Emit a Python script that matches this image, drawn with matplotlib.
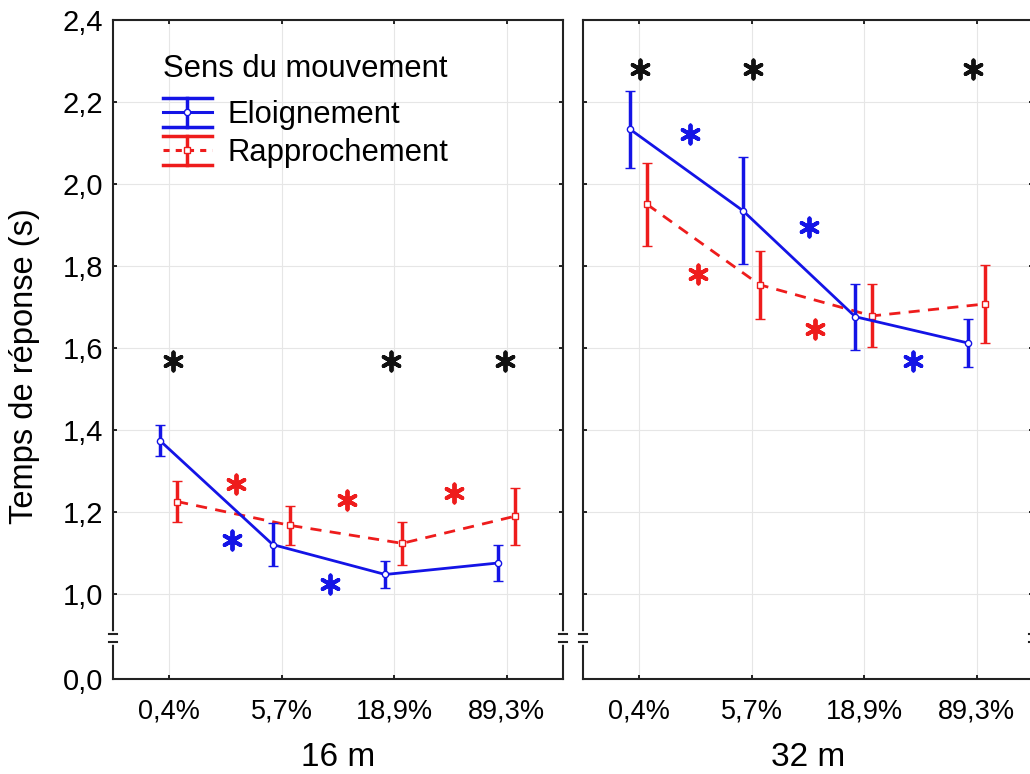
import numpy as np
import matplotlib
matplotlib.use("Agg")
import matplotlib.pyplot as plt
import matplotlib.transforms as mtransforms
from matplotlib.lines import Line2D
from matplotlib.legend_handler import HandlerBase

plt.rcParams['font.family'] = ['Liberation Sans', 'DejaVu Sans']

# categories and panels
categories = ['0,4%', '5,7%', '18,9%', '89,3%']
panels = ['16 m', '32 m']

# mean response times (s) and error half-widths
eloi_16 = [1.373, 1.120, 1.047, 1.075]
eloi_16_err = [0.038, 0.052, 0.034, 0.045]
rapp_16 = [1.225, 1.167, 1.123, 1.189]
rapp_16_err = [0.050, 0.047, 0.053, 0.070]

eloi_32 = [2.133, 1.935, 1.676, 1.612]
eloi_32_err = [0.094, 0.130, 0.080, 0.058]
rapp_32 = [1.950, 1.754, 1.678, 1.707]
rapp_32_err = [0.102, 0.083, 0.077, 0.096]

# significance asterisks (category position, value)
black_16_x = [0.03, 1.97, 2.98]
black_16_y = [1.568, 1.568, 1.568]
red_16_x = [0.59, 1.58, 2.53]
red_16_y = [1.268, 1.229, 1.246]
blue_16_x = [0.56, 1.43]
blue_16_y = [1.132, 1.024]

black_32_x = [0.01, 1.01, 2.97]
black_32_y = [2.28, 2.28, 2.28]
red_32_x = [0.52, 1.56]
red_32_y = [1.78, 1.645]
blue_32_x = [0.45, 1.51, 2.43]
blue_32_y = [2.122, 1.894, 1.567]

yticks = [1.0, 1.2, 1.4, 1.6, 1.8, 2.0, 2.2, 2.4]
ytick_labels = ['1,0', '1,2', '1,4', '1,6', '1,8', '2,0', '2,2', '2,4']
y_zero_pos = 0.792  # where "0,0" sits below the axis break

BLUE = '#1414e6'
RED = '#ee1c1c'


class StatHandler(HandlerBase):
    # legend key: wide caps top and bottom, vertical bar, line, marker
    def __init__(self, color, ls, marker):
        super().__init__()
        self.color, self.ls, self.marker = color, ls, marker

    def create_artists(self, legend, orig, xd, yd, w, h, fs, trans):
        cy = yd + h / 2
        half = 10.5
        arts = [
            Line2D([xd, xd + w], [cy + half, cy + half], color=self.color, lw=2.5),
            Line2D([xd, xd + w], [cy - half, cy - half], color=self.color, lw=2.5),
            Line2D([xd + w / 2, xd + w / 2], [cy - half, cy + half], color=self.color, lw=2.5),
            Line2D([xd, xd + w], [cy, cy], color=self.color, lw=2.2, ls=self.ls),
            Line2D([xd + w / 2], [cy], marker=self.marker, ms=4.5, mfc='white',
                   mec=self.color, mew=1, ls='none'),
        ]
        for a in arts:
            a.set_transform(trans)
        return arts


fig = plt.figure(figsize=(10.3, 7.74), dpi=100)
ax1 = fig.add_axes([113 / 1030, 95 / 774, 450 / 1030, 659 / 774])
ax2 = fig.add_axes([583 / 1030, 95 / 774, 450 / 1030, 659 / 774])

data = [
    (ax1, eloi_16, eloi_16_err, rapp_16, rapp_16_err,
     (black_16_x, black_16_y), (red_16_x, red_16_y), (blue_16_x, blue_16_y)),
    (ax2, eloi_32, eloi_32_err, rapp_32, rapp_32_err,
     (black_32_x, black_32_y), (red_32_x, red_32_y), (blue_32_x, blue_32_y)),
]

x = np.arange(len(categories))

for i, (ax, e, ee, r, re_, blk, red, blu) in enumerate(data):
    ax.errorbar(x - 0.08, e, yerr=ee, color=BLUE, lw=2, elinewidth=2.5,
                capsize=3.5, capthick=2.5, marker='o', ms=4.5,
                mfc='white', mec=BLUE, mew=1, zorder=4)
    ax.errorbar(x + 0.07, r, yerr=re_, color=RED, lw=2, ls=(0, (4, 3)),
                elinewidth=2.5, capsize=3.5, capthick=2.5, marker='s', ms=4,
                mfc='white', mec=RED, mew=1, zorder=3)

    star = (6, 2, 0)
    ax.scatter(blk[0], blk[1], marker=star, s=170, color='#111111', lw=2.8, zorder=5)
    ax.scatter(red[0], red[1], marker=star, s=170, color=RED, lw=2.8, zorder=5)
    ax.scatter(blu[0], blu[1], marker=star, s=170, color=BLUE, lw=2.8, zorder=5)

    ax.set_xlim(-0.5, 3.5)
    ax.set_ylim(y_zero_pos, 2.4)
    ax.set_xticks(x)
    ax.set_xticklabels(categories, fontsize=19.5)
    ax.set_yticks([y_zero_pos] + yticks)
    if i == 0:
        ax.set_yticklabels(['0,0'] + ytick_labels, fontsize=21)
    else:
        ax.set_yticklabels([])
    ax.tick_params(direction='in', length=3, width=1.2, top=True, right=True,
                   pad=7)
    ax.tick_params(axis='x', pad=14)
    ax.grid(True, color='#e6e6e6', lw=0.8)
    ax.set_axisbelow(True)
    for s in ax.spines.values():
        s.set_linewidth(1.5)
        s.set_color('#222222')
    ax.set_xlabel(panels[i], fontsize=24, labelpad=13)

    # broken axis marks on left and right spines
    trans = mtransforms.blended_transform_factory(ax.transAxes, ax.transData)
    for sx in (0, 1):
        ax.plot([sx, sx], [0.882, 0.901], color='white', lw=4,
                transform=trans, clip_on=False, zorder=10)
        for yy in (0.882, 0.901):
            ax.plot([sx - 0.008, sx + 0.008], [yy, yy], color='#222222',
                    lw=1.5, transform=trans, clip_on=False, zorder=11)

h_e = Line2D([], [], color=BLUE)
h_r = Line2D([], [], color=RED)
leg = ax1.legend([h_e, h_r], ['Eloignement', 'Rapprochement'],
                 handler_map={h_e: StatHandler(BLUE, '-', 'o'),
                              h_r: StatHandler(RED, (0, (2, 2)), 's')},
                 loc='upper left', bbox_to_anchor=(0.062, 0.982), frameon=False,
                 title='Sens du mouvement', fontsize=22.3, title_fontsize=22.3,
                 handlelength=1.6, handleheight=0.7, handletextpad=0.48,
                 labelspacing=0.25, borderaxespad=0.3)
leg._legend_box.align = 'left'
leg._legend_box.sep = 12

fig.text(25 / 1030, 1 - 366 / 774, 'Temps de réponse (s)', rotation=90,
         ha='center', va='center', fontsize=23.5)

fig.savefig('out.png', dpi=100)
